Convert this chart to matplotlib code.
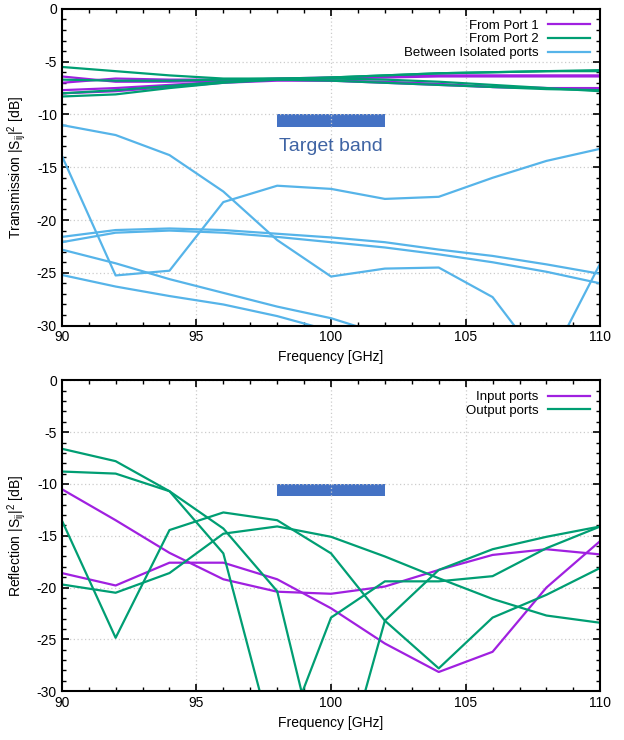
import matplotlib
matplotlib.use('Agg')
import matplotlib.pyplot as plt
from matplotlib.patches import Rectangle
from matplotlib.ticker import MultipleLocator

plt.rcParams['font.family'] = ['Liberation Sans', 'DejaVu Sans']
plt.rcParams['axes.unicode_minus'] = False

# frequency grid (GHz)
freq = [90, 92, 94, 96, 98, 100, 102, 104, 106, 108, 110]

# --- transmission |Sij|^2 [dB] ---
port1 = [
    [-6.4, -6.9, -6.9, -6.8, -6.6, -6.5, -6.4, -6.3, -6.3, -6.3, -6.3],
    [-7.0, -6.6, -6.7, -6.7, -6.7, -6.8, -7.0, -7.2, -7.4, -7.5, -7.5],
    [-7.7, -7.5, -7.2, -6.9, -6.7, -6.6, -6.5, -6.4, -6.4, -6.4, -6.4],
    [-8.0, -7.8, -7.4, -7.0, -6.8, -6.8, -6.9, -7.1, -7.4, -7.5, -7.6],
]
port2 = [
    [-5.5, -5.9, -6.3, -6.6, -6.6, -6.5, -6.3, -6.1, -6.0, -5.9, -5.9],
    [-6.7, -6.8, -6.8, -6.7, -6.6, -6.6, -6.7, -6.9, -7.2, -7.5, -7.8],
    [-8.3, -8.1, -7.5, -7.0, -6.7, -6.5, -6.3, -6.1, -6.0, -5.9, -5.8],
    [-8.0, -7.7, -7.3, -6.9, -6.7, -6.8, -7.0, -7.2, -7.4, -7.6, -7.7],
]
isolated = [
    [-11.0, -11.95, -13.85, -17.3, -21.9, -25.35, -24.6, -24.5, -27.3, -34.0, -24.1],
    [-13.9, -25.25, -24.8, -18.3, -16.75, -17.05, -18.0, -17.8, -16.0, -14.4, -13.25],
    [-21.6, -20.95, -20.8, -20.95, -21.3, -21.65, -22.1, -22.8, -23.4, -24.2, -25.1],
    [-22.1, -21.2, -21.0, -21.2, -21.6, -22.1, -22.6, -23.25, -24.0, -24.9, -26.0],
    [-22.8, -24.1, -25.6, -26.9, -28.2, -29.3, -30.9, -32.0, -33.0, -34.0, -35.0],
    [-25.2, -26.3, -27.2, -28.0, -29.1, -30.5, -31.5, -32.5, -33.5, -34.5, -35.5],
]

# --- reflection |Sij|^2 [dB] ---
inputs = [
    [-10.5, -13.5, -16.65, -19.2, -20.4, -20.6, -19.9, -18.3, -16.85, -16.3, -16.8],
    [-18.6, -19.8, -17.6, -17.6, -19.2, -22.0, -25.4, -28.15, -26.2, -20.0, -15.5],
]
outputs = [
    [-6.6, -7.8, -10.7, -14.3, -20.35, -41.8, -23.2, -18.3, -16.3, -15.1, -14.1],
    [-8.8, -9.0, -10.7, -16.7, -36.4, -22.9, -19.4, -19.4, -18.9, -16.2, -14.1],
    [-13.5, -24.85, -14.45, -12.75, -13.5, -16.7, -23.2, -27.8, -22.9, -20.7, -18.1],
    [-19.7, -20.5, -18.6, -14.8, -14.1, -15.1, -17.0, -19.1, -21.1, -22.7, -23.4],
]

band = (98, 102)          # target band [GHz]
band_db = (-11.2, -10.0)  # where the band bar is drawn

purple = '#A020E0'
green = '#009E73'
blue = '#56B4E9'
bar = '#4472C4'


def style_axes(ax, ylabel):
    ax.set_xlim(90, 110)
    ax.set_ylim(-30, 0)
    ax.xaxis.set_major_locator(MultipleLocator(5))
    ax.xaxis.set_minor_locator(MultipleLocator(1))
    ax.yaxis.set_major_locator(MultipleLocator(5))
    ax.yaxis.set_minor_locator(MultipleLocator(1))
    ax.tick_params(which='both', direction='in', top=True, right=True, labelsize=10)
    ax.tick_params(which='major', length=5, width=1.2)
    ax.tick_params(which='minor', length=3, width=1.0)
    ax.grid(True, which='major', color='#cccccc', linestyle=(0, (1, 2)), linewidth=0.9)
    for s in ax.spines.values():
        s.set_linewidth(1.5)
    ax.set_xlabel('Frequency [GHz]', fontsize=10, labelpad=4)
    ax.set_ylabel(ylabel, fontsize=10, labelpad=6)
    ax.add_patch(Rectangle((band[0], band_db[0]), band[1] - band[0],
                           band_db[1] - band_db[0], color=bar, zorder=1.5, lw=0))


fig = plt.figure(figsize=(6.24, 7.4), dpi=100)
ax1 = fig.add_axes([0.099, 0.56, 0.863, 0.428])
ax2 = fig.add_axes([0.099, 0.066, 0.863, 0.42])

# top panel: transmission
for i, y in enumerate(port1):
    ax1.plot(freq, y, color=purple, lw=1.6, label='From Port 1' if i == 0 else None)
for i, y in enumerate(port2):
    ax1.plot(freq, y, color=green, lw=1.6, label='From Port 2' if i == 0 else None)
for i, y in enumerate(isolated):
    ax1.plot(freq, y, color=blue, lw=1.6, label='Between Isolated ports' if i == 0 else None)
style_axes(ax1, r'Transmission |S$_\mathregular{ij}$|$^\mathregular{2}$ [dB]')
ax1.text(sum(band) / 2, -13.0, 'Target band', color='#3F64A4', fontsize=14,
         ha='center', va='center')
ax1.legend(loc='upper right', frameon=False, markerfirst=False, fontsize=9.5,
           handlelength=3.2, labelspacing=0.12, handletextpad=0.7,
           borderaxespad=0.4)

# bottom panel: reflection
for i, y in enumerate(inputs):
    ax2.plot(freq, y, color=purple, lw=1.6, label='Input ports' if i == 0 else None)
for i, y in enumerate(outputs):
    ax2.plot(freq, y, color=green, lw=1.6, label='Output ports' if i == 0 else None)
style_axes(ax2, r'Reflection |S$_\mathregular{ij}$|$^\mathregular{2}$ [dB]')
ax2.legend(loc='upper right', frameon=False, markerfirst=False, fontsize=9.5,
           handlelength=3.2, labelspacing=0.12, handletextpad=0.7,
           borderaxespad=0.4)

fig.savefig('out.png', dpi=100)
